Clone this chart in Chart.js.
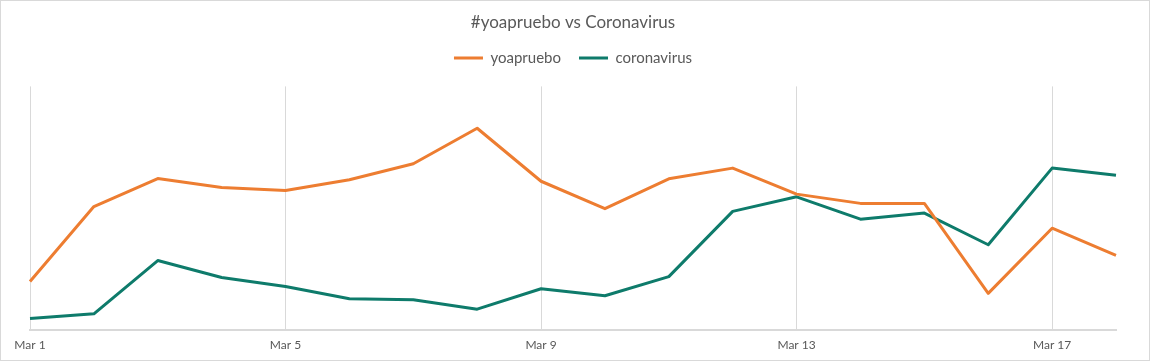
<!DOCTYPE html>
<html>
<head>
<meta charset="utf-8">
<script src="https://cdn.jsdelivr.net/npm/chart.js@4"></script>
<style>
  html, body { margin: 0; padding: 0; background: #ffffff; }
  #wrap { width: 1150px; height: 361px; }
</style>
</head>
<body>
<div id="wrap"><canvas id="c" width="1150" height="361"></canvas></div>
<script>
const categories = ["Mar 1","Mar 2","Mar 3","Mar 4","Mar 5","Mar 6","Mar 7","Mar 8","Mar 9","Mar 10","Mar 11","Mar 12","Mar 13","Mar 14","Mar 15","Mar 16","Mar 17","Mar 18"];
const yoaprueboValues = [19.8, 50.6, 62.1, 58.4, 57.2, 61.6, 68.2, 82.8, 61.0, 49.7, 62.0, 66.4, 55.7, 51.9, 51.9, 14.9, 41.7, 30.5];
const coronavirusValues = [4.6, 6.5, 28.4, 21.4, 17.7, 12.7, 12.3, 8.4, 16.8, 13.9, 21.8, 48.6, 54.6, 45.4, 47.9, 34.9, 66.4, 63.5];
const tickLabelsShown = ["Mar 1","Mar 5","Mar 9","Mar 13","Mar 17"];

const borderPlugin = {
  id: 'outerBorder',
  afterDraw(chart) {
    const ctx = chart.ctx;
    ctx.save();
    ctx.strokeStyle = '#d9d9d9';
    ctx.lineWidth = 1;
    ctx.strokeRect(0.5, 0.5, chart.width - 1, chart.height - 1);
    ctx.restore();
  }
};
const legendSpacer = {
  id: 'legendSpacer',
  beforeInit(chart) {
    const origFit = chart.legend.fit;
    chart.legend.fit = function () {
      origFit.call(this);
      this.height += 11;
    };
  }
};

const FONT = "Lato, 'Open Sans', sans-serif";

new Chart(document.getElementById('c'), {
  type: 'line',
  data: {
    labels: categories,
    datasets: [
      { label: 'yoapruebo', data: yoaprueboValues, borderColor: '#ED7D31', backgroundColor: '#ED7D31', borderWidth: 3, pointRadius: 0, tension: 0, borderJoinStyle: 'round' },
      { label: 'coronavirus', data: coronavirusValues, borderColor: '#0E7B6B', backgroundColor: '#0E7B6B', borderWidth: 3, pointRadius: 0, tension: 0, borderJoinStyle: 'round' }
    ]
  },
  options: {
    responsive: false,
    animation: false,
    devicePixelRatio: 1,
    layout: { padding: { left: 30, right: 34, top: 0, bottom: 1 } },
    plugins: {
      title: {
        display: true,
        text: '#yoapruebo vs Coronavirus',
        color: '#595959',
        font: { family: FONT, size: 17, weight: 'normal' },
        padding: { top: 12, bottom: 0 }
      },
      legend: {
        display: true,
        position: 'top',
        labels: {
          color: '#595959',
          font: { family: FONT, size: 15 },
          boxWidth: 29,
          boxHeight: 3,
          padding: 18,
          generateLabels: function (chart) {
            const items = Chart.defaults.plugins.legend.labels.generateLabels(chart);
            items.forEach(it => { it.lineWidth = 0; });
            return items;
          }
        }
      },
      tooltip: { enabled: false }
    },
    scales: {
      x: {
        offset: false,
        grid: { color: '#d9d9d9', lineWidth: 1, drawTicks: false },
        border: { color: '#d9d9d9', width: 2 },
        ticks: {
          autoSkip: false,
          maxRotation: 0,
          color: '#595959',
          font: { family: FONT, size: 12 },
          padding: 8,
          callback: function (value, index) {
            const lab = this.getLabelForValue(value);
            return tickLabelsShown.includes(lab) ? lab : null;
          }
        }
      },
      y: {
        display: false,
        min: 0,
        max: 100
      }
    }
  },
  plugins: [borderPlugin, legendSpacer]
});
</script>
</body>
</html>
